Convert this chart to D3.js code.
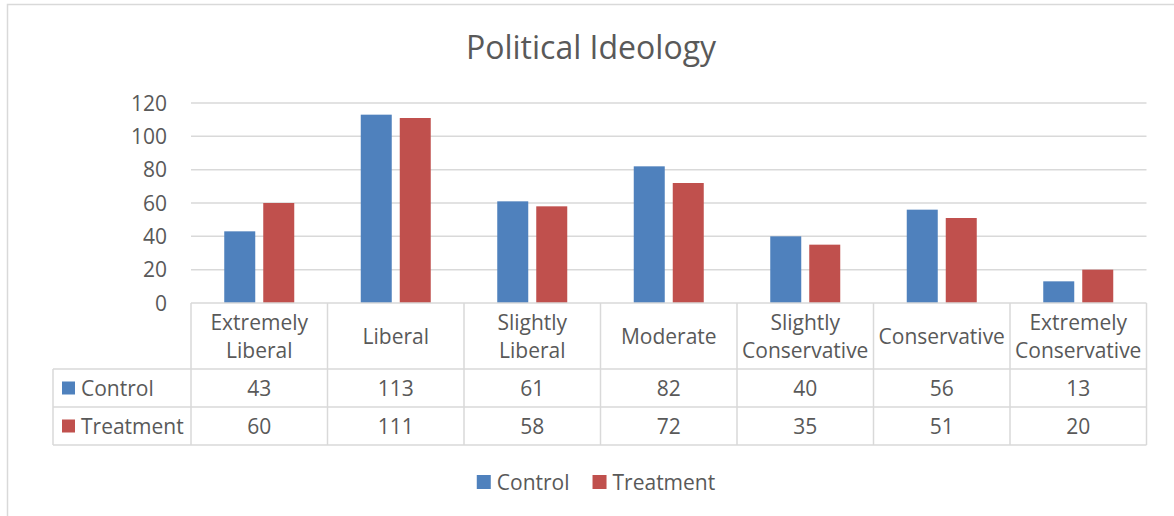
<!DOCTYPE html>
<html>
<head>
<meta charset="utf-8">
<script src="https://cdn.jsdelivr.net/npm/d3@7"></script>
<style>
    body { margin: 0; background: #fff; }
    text { font-family: "Open Sans", sans-serif; fill: #595959; }
</style>
</head>
<body>
<div id="chart"></div>
<script>
// chart data
let categories = [
    ["Extremely", "Liberal"],
    ["Liberal"],
    ["Slightly", "Liberal"],
    ["Moderate"],
    ["Slightly", "Conservative"],
    ["Conservative"],
    ["Extremely", "Conservative"]
];
let seriesNames = ["Control", "Treatment"];
let controlValues = [43, 113, 61, 82, 40, 56, 13];
let treatmentValues = [60, 111, 58, 72, 35, 51, 20];
let yTicks = [0, 20, 40, 60, 80, 100, 120];

let seriesColors = {"Control": "#4f81bd", "Treatment": "#c0504d"};
let lineColor = "#d9d9d9";

let width = 1174, height = 516;

let svg = d3.select("#chart").append("svg")
    .attr("width", width)
    .attr("height", height);

// outer chart border
svg.append("rect")
    .attr("x", 7.5).attr("y", 4.5)
    .attr("width", width + 20).attr("height", height + 20)
    .attr("fill", "white")
    .attr("stroke", lineColor)
    .attr("stroke-width", 1.5);

// title
svg.append("text")
    .attr("x", 591).attr("y", 59)
    .attr("text-anchor", "middle")
    .style("font-size", "32px")
    .text("Political Ideology");

let plot = {left: 191, right: 1146.5, top: 103, bottom: 303};
let table = {left: 53, header: 369, row1: 407, row2: 445};

let catIdx = d3.range(categories.length);

let x0 = d3.scaleBand()
    .domain(catIdx)
    .range([plot.left, plot.right])
    .paddingInner(0).paddingOuter(0);

let bw = x0.bandwidth();
let x1 = d3.scaleBand()
    .domain(seriesNames)
    .range([bw / 2 - 35, bw / 2 + 35])
    .paddingInner(8 / 39).paddingOuter(0);

let y = d3.scaleLinear()
    .domain([0, 120])
    .range([plot.bottom, plot.top]);

// gridlines
svg.append("g")
    .selectAll("line")
    .data(yTicks.filter(d => d > 0))
    .enter().append("line")
    .attr("x1", plot.left).attr("x2", plot.right)
    .attr("y1", d => y(d)).attr("y2", d => y(d))
    .attr("stroke", lineColor)
    .attr("stroke-width", 1.5);

// y axis labels
svg.append("g")
    .selectAll("text")
    .data(yTicks)
    .enter().append("text")
    .attr("x", 167)
    .attr("y", d => y(d))
    .attr("dy", "0.36em")
    .attr("text-anchor", "end")
    .style("font-size", "21px")
    .text(d => d);

// bars
let rows = [
    {name: "Control", values: controlValues},
    {name: "Treatment", values: treatmentValues}
];

rows.forEach(r => {
    svg.append("g")
        .selectAll("rect")
        .data(r.values)
        .enter().append("rect")
        .attr("x", (d, i) => x0(i) + x1(r.name))
        .attr("width", x1.bandwidth())
        .attr("y", d => y(d))
        .attr("height", d => y(0) - y(d))
        .attr("fill", seriesColors[r.name]);
});

// data table
let tg = svg.append("g");

// horizontal lines
tg.append("line")
    .attr("x1", plot.left).attr("x2", plot.right)
    .attr("y1", plot.bottom).attr("y2", plot.bottom);
[table.header, table.row1, table.row2].forEach(yy => {
    tg.append("line")
        .attr("x1", table.left).attr("x2", plot.right)
        .attr("y1", yy).attr("y2", yy);
});

// vertical lines
tg.append("line")
    .attr("x1", table.left).attr("x2", table.left)
    .attr("y1", table.header).attr("y2", table.row2);
catIdx.concat([categories.length]).forEach(i => {
    let xx = i < categories.length ? x0(i) : plot.right;
    tg.append("line")
        .attr("x1", xx).attr("x2", xx)
        .attr("y1", plot.bottom).attr("y2", table.row2);
});
tg.selectAll("line")
    .attr("stroke", lineColor)
    .attr("stroke-width", 1.5);

// header labels
let headerMid = (plot.bottom + table.header) / 2;
catIdx.forEach(i => {
    let lines = categories[i];
    let t = tg.append("text")
        .attr("text-anchor", "middle")
        .style("font-size", "21px");
    lines.forEach((l, j) => {
        t.append("tspan")
            .attr("x", x0(i) + bw / 2)
            .attr("y", headerMid + (j - (lines.length - 1) / 2) * 28)
            .attr("dy", "0.36em")
            .text(l);
    });
});

// value rows
let rowMids = [(table.header + table.row1) / 2, (table.row1 + table.row2) / 2];
rows.forEach((r, k) => {
    tg.append("rect")
        .attr("x", 62).attr("y", rowMids[k] - 6.5)
        .attr("width", 13).attr("height", 13)
        .attr("fill", seriesColors[r.name]);
    tg.append("text")
        .attr("x", 81)
        .attr("y", rowMids[k])
        .attr("dy", "0.36em")
        .style("font-size", "21px")
        .text(r.name);
    tg.append("g")
        .selectAll("text")
        .data(r.values)
        .enter().append("text")
        .attr("x", (d, i) => x0(i) + bw / 2)
        .attr("y", rowMids[k])
        .attr("dy", "0.36em")
        .attr("text-anchor", "middle")
        .style("font-size", "21px")
        .text(d => d);
});

// legend
let legend = svg.append("g");
let lx = 0;
seriesNames.forEach(name => {
    let item = legend.append("g").attr("transform", `translate(${lx},0)`);
    item.append("rect")
        .attr("x", 0).attr("y", -7)
        .attr("width", 14).attr("height", 14)
        .attr("fill", seriesColors[name]);
    let t = item.append("text")
        .attr("x", 20)
        .attr("dy", "0.36em")
        .style("font-size", "21px")
        .text(name);
    lx += 20 + t.node().getComputedTextLength() + 23;
});
let legendWidth = lx - 23;
legend.attr("transform", `translate(${596 - legendWidth / 2},482)`);
</script>
</body>
</html>
